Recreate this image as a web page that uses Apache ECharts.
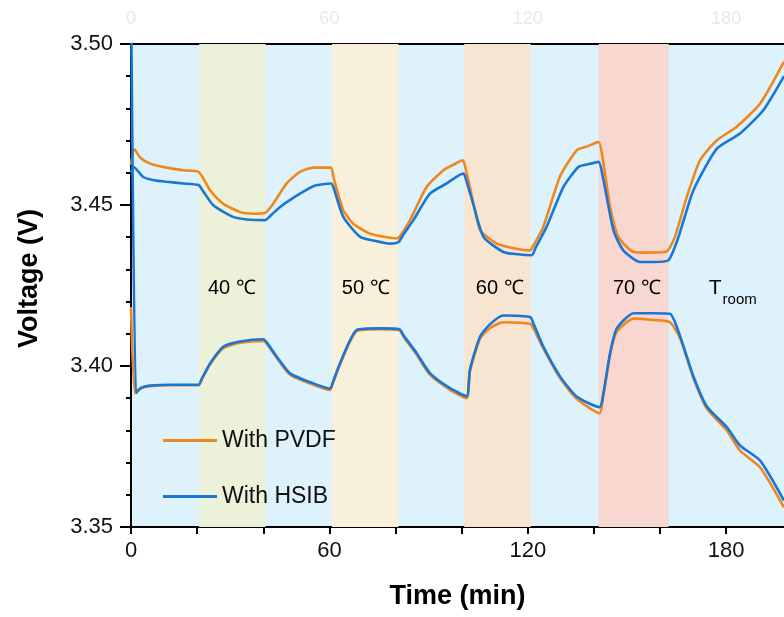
<!DOCTYPE html>
<html>
<head>
<meta charset="utf-8">
<script src="https://cdn.jsdelivr.net/npm/echarts@6/dist/echarts.min.js"></script>
<style>html,body{margin:0;padding:0;background:#fff}#c{width:784px;height:617px}</style>
</head>
<body>
<div id="c"></div>
<script>
// ---- data (time in min, voltage in V) ----
const pvdfUpper = [[0,3.4625],[1.0,3.4673],[3,3.4645],[5.7,3.4629],[10.8,3.4616],[15.8,3.4608],[20.4,3.4603],[22,3.4580],[23.9,3.4546],[27.9,3.4504],[33,3.4478],[37,3.4473],[40.5,3.4475],[43,3.4504],[47.1,3.4567],[51.1,3.4603],[55.1,3.4616],[60.5,3.4616],[61.2,3.4587],[64.2,3.4484],[67.2,3.4442],[72.3,3.4411],[76,3.4402],[80.4,3.4396],[81.5,3.4405],[84.4,3.4453],[89.4,3.4556],[94.5,3.4608],[97.5,3.4625],[100.3,3.4639],[100.8,3.4630],[102.5,3.4556],[105.6,3.4422],[110.6,3.4380],[116,3.4365],[120.7,3.4359],[121.5,3.4370],[124.7,3.4432],[129.8,3.4590],[134.8,3.4670],[138,3.4682],[141.4,3.4696],[142.9,3.4629],[144.9,3.4494],[147.4,3.4401],[152,3.4354],[157,3.4352],[162,3.4356],[164.5,3.4401],[168.1,3.4525],[172.1,3.4639],[177.2,3.4701],[183.2,3.4743],[190.3,3.4815],[197.5,3.4945]];
const hsibUpper = [[0,3.4600],[0.8,3.4618],[3.7,3.4587],[7,3.4577],[10.8,3.4572],[15.8,3.4567],[20.4,3.4562],[22,3.4540],[24.9,3.4499],[30.9,3.4463],[35,3.4455],[40.5,3.4453],[42.5,3.4470],[45.1,3.4494],[51.1,3.4535],[55.5,3.4560],[60.5,3.4567],[61.2,3.4556],[64.2,3.4463],[69.3,3.4401],[74,3.4388],[78.3,3.4380],[80.9,3.4385],[82.5,3.4410],[85.4,3.4453],[90.4,3.4535],[95.5,3.4567],[100.5,3.4598],[101,3.4590],[103.5,3.4504],[106.6,3.4401],[112.6,3.4354],[117,3.4347],[121.2,3.4344],[122.5,3.4370],[125.7,3.4432],[130.8,3.4556],[135.3,3.4618],[138,3.4626],[141.4,3.4634],[142.9,3.4577],[145.9,3.4422],[148.9,3.4359],[154,3.4323],[158,3.4323],[162.5,3.4328],[165.6,3.4401],[170.1,3.4546],[177.2,3.4675],[184.2,3.4722],[191.3,3.4795],[197.5,3.4900]];
const pvdfLower = [[0,3.4183],[1.2,3.3916],[3,3.3930],[5.7,3.3937],[12,3.3940],[20.4,3.3940],[21.5,3.3960],[23.9,3.4005],[27.9,3.4055],[33,3.4072],[40,3.4078],[41,3.4070],[44.1,3.4025],[48.1,3.3973],[55.1,3.3942],[60.2,3.3926],[61,3.3945],[63.2,3.4005],[68.3,3.4108],[75.3,3.4114],[81.2,3.4111],[82.5,3.4090],[86.4,3.4035],[90.4,3.3973],[96.5,3.3926],[101.5,3.3900],[102.5,3.3983],[105.6,3.4086],[108.6,3.4118],[112.6,3.4136],[120.7,3.4131],[121.8,3.4115],[124.7,3.4055],[129.8,3.3962],[134.8,3.3898],[141.7,3.3853],[142.9,3.3910],[144.9,3.4035],[146.9,3.4106],[152,3.4147],[158,3.4143],[163,3.4136],[166.1,3.4085],[170.1,3.3962],[174.1,3.3869],[180.2,3.3800],[184.2,3.3737],[190.3,3.3685],[197.5,3.3561]];
const hsibLower = [[0,3.5200],[1.5,3.3916],[3,3.3932],[5.7,3.3939],[12,3.3942],[20.4,3.3942],[21.5,3.3962],[23.9,3.4008],[27.9,3.4060],[33,3.4076],[40,3.4083],[41,3.4074],[44.1,3.4029],[48.1,3.3977],[55.1,3.3946],[60.2,3.3930],[61,3.3948],[63.2,3.4008],[68.3,3.4112],[75.3,3.4117],[81.2,3.4114],[82.5,3.4094],[86.4,3.4040],[90.4,3.3978],[96.5,3.3931],[101.5,3.3906],[102.5,3.3988],[105.6,3.4092],[108.6,3.4130],[112.6,3.4157],[120.7,3.4152],[121.8,3.4130],[124.7,3.4060],[129.8,3.3967],[134.8,3.3905],[141.7,3.3872],[142.9,3.3916],[144.9,3.4040],[146.9,3.4116],[152,3.4164],[158,3.4164],[163,3.4162],[166.1,3.4092],[170.1,3.3968],[174.1,3.3875],[180.2,3.3810],[184.2,3.3753],[190.3,3.3706],[197.5,3.3582]];

const bandStart = [20.6, 60.8, 100.8, 141.5];
const bandEnd = [40.7, 80.9, 120.9, 162.6];
const bandColors = ['#EBF2D9', '#F8F0DA', '#F7E5D1', '#F8D7D1'];
const labelTimes = [30.5, 71, 111.5, 153, 182];
const labelTexts = ['40 ℃', '50 ℃', '60 ℃', '70 ℃', '{t|T}{s|room}'];
const labelVoltage = 3.4242;
const xTicks = [0, 60, 120, 180];
const seriesNames = ['With PVDF', 'With HSIB'];

const ORANGE = '#F0871E', BLUE = '#1A76D6';
const FONT = "'Liberation Sans', Arial, Helvetica, sans-serif";

const chart = echarts.init(document.getElementById('c'), null, {renderer: 'canvas'});

const lineSeries = (name, data, color, z) => ({
  name, type: 'line', data, showSymbol: false, symbol: 'none', z,
  lineStyle: {color, width: 2.6}, itemStyle: {color}, smooth: 0.2, clip: true, silent: true
});

chart.setOption({
  animation: false,
  backgroundColor: '#fff',
  textStyle: {fontFamily: FONT},
  grid: {left: 131, right: 0, top: 44, bottom: 90, show: true, backgroundColor: '#DDF2FB', borderWidth: 0, containLabel: false},
  legend: {
    orient: 'vertical', left: 158, top: 424, itemGap: 33, itemWidth: 54, itemHeight: 3,
    icon: 'rect', data: seriesNames,
    textStyle: {fontSize: 23, color: '#111', fontFamily: FONT}
  },
  xAxis: [{
    type: 'value', position: 'bottom', min: 0, max: 197.5, interval: 20,
    axisLine: {show: true, onZero: false, lineStyle: {color: '#000', width: 2}},
    axisTick: {show: true, length: 7, lineStyle: {color: '#000', width: 2}},
    axisLabel: {fontSize: 22, color: '#111', margin: 13, showMaxLabel: false,
      formatter: v => xTicks.includes(Math.round(v)) && Math.abs(v - Math.round(v)) < 1e-6 ? String(Math.round(v)) : ''},
    splitLine: {show: false},
    name: 'Time (min)', nameLocation: 'middle', nameGap: 56,
    nameTextStyle: {fontSize: 27, fontWeight: 'bold', color: '#000', fontFamily: FONT}
  }, {
    type: 'value', position: 'top', min: 0, max: 197.5, interval: 60,
    axisLine: {show: true, onZero: false, lineStyle: {color: '#000', width: 2}},
    axisTick: {show: false},
    axisLabel: {fontSize: 18, color: '#E8E8E8', margin: 16, showMaxLabel: false,
      formatter: v => xTicks.includes(Math.round(v)) ? String(Math.round(v)) : ''},
    splitLine: {show: false}
  }],
  yAxis: {
    type: 'value', min: 3.35, max: 3.50, interval: 0.05,
    axisLine: {show: true, onZero: false, lineStyle: {color: '#000', width: 2}},
    axisTick: {show: true, length: 11, lineStyle: {color: '#000', width: 2}},
    minorTick: {show: true, splitNumber: 5, length: 5, lineStyle: {color: '#000', width: 2}},
    axisLabel: {fontSize: 22, color: '#111', margin: 18, formatter: v => v.toFixed(2)},
    splitLine: {show: false}, minorSplitLine: {show: false},
    name: 'Voltage (V)', nameLocation: 'middle', nameGap: 88,
    nameTextStyle: {fontSize: 27, fontWeight: 'bold', color: '#000', fontFamily: FONT, padding: [0, 0, 0, 14]}
  },
  series: [
    {
      type: 'line', data: [], silent: true, z: 0,
      markArea: {
        silent: true,
        data: bandStart.map((s, i) => [{xAxis: s, itemStyle: {color: bandColors[i], opacity: 1}}, {xAxis: bandEnd[i]}])
      }
    },
    lineSeries(seriesNames[0], pvdfUpper, ORANGE, 3),
    lineSeries(seriesNames[0], pvdfLower, ORANGE, 3),
    lineSeries(seriesNames[1], hsibUpper, BLUE, 4),
    lineSeries(seriesNames[1], hsibLower, BLUE, 4),
    {
      type: 'scatter', symbol: 'circle', symbolSize: 1, silent: true, z: 5,
      itemStyle: {color: 'rgba(0,0,0,0)', opacity: 1},
      data: labelTimes.map((t, i) => ({value: [t, labelVoltage], name: labelTexts[i]})),
      label: {
        show: true, position: 'inside', formatter: p => p.name, opacity: 1,
        fontSize: 20, color: '#000', fontFamily: FONT, textBorderWidth: 0,
        rich: {
          t: {fontSize: 21, color: '#000', fontFamily: FONT, verticalAlign: 'bottom', lineHeight: 22, textBorderWidth: 0},
          s: {fontSize: 15, color: '#000', fontFamily: FONT, verticalAlign: 'bottom', lineHeight: 22, padding: [0, 0, -8, 1], textBorderWidth: 0}
        }
      }
    }
  ]
});
</script>
</body>
</html>
